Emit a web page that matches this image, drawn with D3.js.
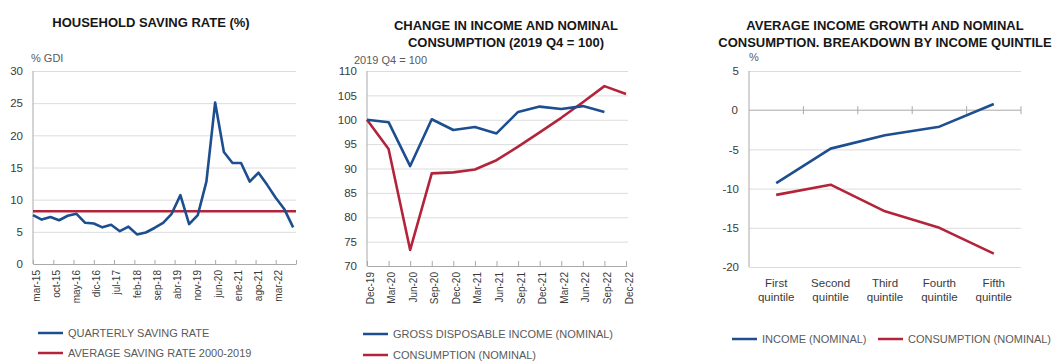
<!DOCTYPE html>
<html>
<head>
<meta charset="utf-8">
<script src="https://cdn.jsdelivr.net/npm/d3@7"></script>
<style>
  body { margin: 0; background: #fff; }
  svg text { font-family: "Liberation Sans", Arial, Helvetica, sans-serif; }
</style>
</head>
<body>
<svg id="chart" width="1054" height="361"></svg>
<script>
'use strict';

// ---- data ----------------------------------------------------------------

// left panel: household saving rate, quarterly
var savingQuarters = [
  '2015-03', '2015-06', '2015-09', '2015-12', '2016-03', '2016-06', '2016-09', '2016-12',
  '2017-03', '2017-06', '2017-09', '2017-12', '2018-03', '2018-06', '2018-09', '2018-12',
  '2019-03', '2019-06', '2019-09', '2019-12', '2020-03', '2020-06', '2020-09', '2020-12',
  '2021-03', '2021-06', '2021-09', '2021-12', '2022-03', '2022-06', '2022-09'
];
var savingRate = [
  7.6, 6.9, 7.3, 6.8, 7.5, 7.8, 6.4, 6.3,
  5.7, 6.1, 5.1, 5.8, 4.6, 4.9, 5.6, 6.4,
  7.8, 10.7, 6.2, 7.6, 12.8, 25.1, 17.4, 15.7,
  15.7, 12.8, 14.2, 12.3, 10.3, 8.5, 5.7
];
var avgSavingRate = 8.2;
var savingTickMonths = [
  '2015-03', '2015-10', '2016-05', '2016-12', '2017-07', '2018-02', '2018-09',
  '2019-04', '2019-11', '2020-06', '2021-01', '2021-08', '2022-03', '2022-10'
];
var savingTickLabels = [
  'mar-15', 'oct-15', 'may-16', 'dic-16', 'jul-17', 'feb-18', 'sep-18',
  'abr-19', 'nov-19', 'jun-20', 'ene-21', 'ago-21', 'mar-22', ''
];
var savingYTicks = [0, 5, 10, 15, 20, 25, 30];

// middle panel: income and consumption, 2019 Q4 = 100
var indexQuarters = [
  'Dec-19', 'Mar-20', 'Jun-20', 'Sep-20', 'Dec-20', 'Mar-21', 'Jun-21',
  'Sep-21', 'Dec-21', 'Mar-22', 'Jun-22', 'Sep-22', 'Dec-22'
];
var grossIncome = [100, 99.5, 90.5, 100.1, 97.9, 98.5, 97.2, 101.6, 102.7, 102.2, 102.8, 101.6];
var nominalConsumption = [100, 94.0, 73.3, 89.0, 89.2, 89.8, 91.7, 94.5, 97.4, 100.4, 103.6, 106.9, 105.3];
var indexYTicks = [70, 75, 80, 85, 90, 95, 100, 105, 110];

// right panel: growth by income quintile
var quintiles = ['First quintile', 'Second quintile', 'Third quintile', 'Fourth quintile', 'Fifth quintile'];
var incomeGrowth = [-9.3, -4.9, -3.2, -2.1, 0.8];
var consumptionGrowth = [-10.8, -9.5, -12.9, -15.0, -18.3];
var quintileYTicks = [-20, -15, -10, -5, 0, 5];

// ---- styles ----------------------------------------------------------------

var BLUE = '#1d4e8f',
    RED = '#b3243b',
    GRID = '#dcdcdc',
    AXIS = '#a9a9a9',
    INK = '#3a3a3a',
    SOFT_INK = '#5a5a5a';

var svg = d3.select('#chart');
var parseMonth = d3.timeParse('%Y-%m');

function title(x, y, lines) {
  var t = svg.append('text')
    .attr('x', x).attr('y', y)
    .attr('text-anchor', 'middle')
    .attr('font-size', 13).attr('font-weight', 'bold')
    .attr('fill', '#161616');
  lines.forEach(function(line, i) {
    t.append('tspan').attr('x', x).attr('dy', i === 0 ? 0 : 17).text(line);
  });
}

function unitLabel(x, y, label) {
  svg.append('text').attr('x', x).attr('y', y)
    .attr('font-size', 11).attr('fill', SOFT_INK).text(label);
}

function legendItem(x, y, color, label) {
  svg.append('line')
    .attr('x1', x).attr('x2', x + 25).attr('y1', y).attr('y2', y)
    .attr('stroke', color).attr('stroke-width', 2.5);
  svg.append('text')
    .attr('x', x + 30).attr('y', y).attr('dy', '0.36em')
    .attr('font-size', 11).attr('fill', SOFT_INK).text(label);
}

// horizontal gridlines + labels on the left
function yGrid(y, ticks, x0, x1) {
  var g = svg.append('g').attr('transform', 'translate(' + x0 + ',0)')
    .call(d3.axisLeft(y).tickValues(ticks).tickSize(-(x1 - x0)).tickPadding(10)
      .tickFormat(function(d) { return String(d); }));
  g.select('.domain').remove();
  g.selectAll('line').attr('stroke', GRID);
  g.selectAll('text').attr('font-size', 11.5).attr('fill', INK)
    .style('font-family', '"Liberation Sans", Arial, sans-serif');
  svg.append('line')
    .attr('x1', x0).attr('x2', x0)
    .attr('y1', y.range()[1]).attr('y2', y.range()[0])
    .attr('stroke', AXIS);
  return g;
}

// bottom axis with rotated labels
function xAxisRotated(axis, yPos) {
  var g = svg.append('g').attr('transform', 'translate(0,' + yPos + ')').call(axis);
  g.select('.domain').attr('stroke', AXIS);
  g.selectAll('.tick line').attr('stroke', AXIS);
  g.selectAll('.tick text')
    .attr('transform', 'rotate(-90)')
    .attr('x', -6).attr('y', 0).attr('dy', '0.6em')
    .attr('text-anchor', 'end')
    .attr('font-size', 10).attr('fill', INK)
    .style('font-family', '"Liberation Sans", Arial, sans-serif');
  return g;
}

function drawLine(x, y, values, keys, color) {
  var line = d3.line()
    .x(function(d, i) { return x(keys[i]); })
    .y(function(d) { return y(d); });
  svg.append('path').datum(values)
    .attr('d', line)
    .attr('fill', 'none')
    .attr('stroke', color).attr('stroke-width', 2.6)
    .attr('stroke-linejoin', 'round');
}

// ---- left: household saving rate -----------------------------------------

(function() {
  var xL = d3.scaleTime()
    .domain([parseMonth('2015-03'), parseMonth('2022-10')])
    .range([33, 296]);
  var yL = d3.scaleLinear().domain([0, 30]).range([264, 71]);
  var dates = savingQuarters.map(parseMonth);

  title(151, 27, ['HOUSEHOLD SAVING RATE (%)']);
  unitLabel(31, 62, '% GDI');
  yGrid(yL, savingYTicks, 33, 296);

  xAxisRotated(
    d3.axisBottom(xL)
      .tickValues(savingTickMonths.map(parseMonth))
      .tickFormat(function(d, i) { return savingTickLabels[i]; })
      .tickSizeInner(-4).tickSizeOuter(0),
    264);

  svg.append('line')
    .attr('x1', xL.range()[0]).attr('x2', xL.range()[1])
    .attr('y1', yL(avgSavingRate)).attr('y2', yL(avgSavingRate))
    .attr('stroke', RED).attr('stroke-width', 2.6);

  drawLine(xL, yL, savingRate, dates, BLUE);

  legendItem(38, 333, BLUE, 'QUARTERLY SAVING RATE');
  legendItem(38, 353, RED, 'AVERAGE SAVING RATE 2000-2019');
})();

// ---- middle: income vs consumption ---------------------------------------

(function() {
  var xM = d3.scalePoint().domain(indexQuarters).range([367, 626]);
  var yM = d3.scaleLinear().domain([70, 110]).range([266, 71]);

  title(506, 30, ['CHANGE IN INCOME AND NOMINAL', 'CONSUMPTION (2019 Q4 = 100)']);
  unitLabel(354, 64, '2019 Q4 = 100');
  yGrid(yM, indexYTicks, 367, 628);

  xAxisRotated(
    d3.axisBottom(xM).tickSizeInner(-5).tickSizeOuter(0),
    266);

  drawLine(xM, yM, nominalConsumption, indexQuarters, RED);
  drawLine(xM, yM, grossIncome, indexQuarters, BLUE);

  legendItem(363, 334, BLUE, 'GROSS DISPOSABLE INCOME (NOMINAL)');
  legendItem(363, 355, RED, 'CONSUMPTION (NOMINAL)');
})();

// ---- right: breakdown by income quintile ---------------------------------

(function() {
  var xR = d3.scaleBand().domain(quintiles).range([749, 1021]);
  var yR = d3.scaleLinear().domain([-20, 5]).range([267, 71]);
  var centre = function(q) { return xR(q) + xR.bandwidth() / 2; };

  title(885, 30, ['AVERAGE INCOME GROWTH AND NOMINAL', 'CONSUMPTION. BREAKDOWN BY INCOME QUINTILE']);
  unitLabel(749, 61, '%');
  var grid = yGrid(yR, quintileYTicks, 749, 1021);
  grid.selectAll('.tick').filter(function(d) { return d === 0; }).remove();

  // zero line with category ticks
  svg.append('line')
    .attr('x1', 749).attr('x2', 1021)
    .attr('y1', yR(0)).attr('y2', yR(0))
    .attr('stroke', AXIS);
  svg.selectAll('.qtick').data(quintiles).enter().append('line')
    .attr('class', 'qtick')
    .attr('x1', function(q) { return xR(q) + xR.bandwidth(); })
    .attr('x2', function(q) { return xR(q) + xR.bandwidth(); })
    .attr('y1', yR(0) - 4).attr('y2', yR(0) + 4)
    .attr('stroke', AXIS);
  svg.append('text')
    .attr('x', 738).attr('y', yR(0)).attr('dy', '0.35em')
    .attr('text-anchor', 'end').attr('font-size', 11.5).attr('fill', INK).text('0');

  // category labels below the plot
  var labels = svg.selectAll('.qlabel').data(quintiles).enter().append('text')
    .attr('class', 'qlabel')
    .attr('text-anchor', 'middle')
    .attr('font-size', 11.5).attr('fill', INK);
  labels.append('tspan')
    .attr('x', centre).attr('y', 287)
    .text(function(q) { return q.split(' ')[0]; });
  labels.append('tspan')
    .attr('x', centre).attr('y', 301)
    .text(function(q) { return q.split(' ')[1]; });

  drawLine(centre, yR, consumptionGrowth, quintiles, RED);
  drawLine(centre, yR, incomeGrowth, quintiles, BLUE);

  legendItem(732, 339, BLUE, 'INCOME (NOMINAL)');
  legendItem(878, 339, RED, 'CONSUMPTION (NOMINAL)');
})();
</script>
</body>
</html>
